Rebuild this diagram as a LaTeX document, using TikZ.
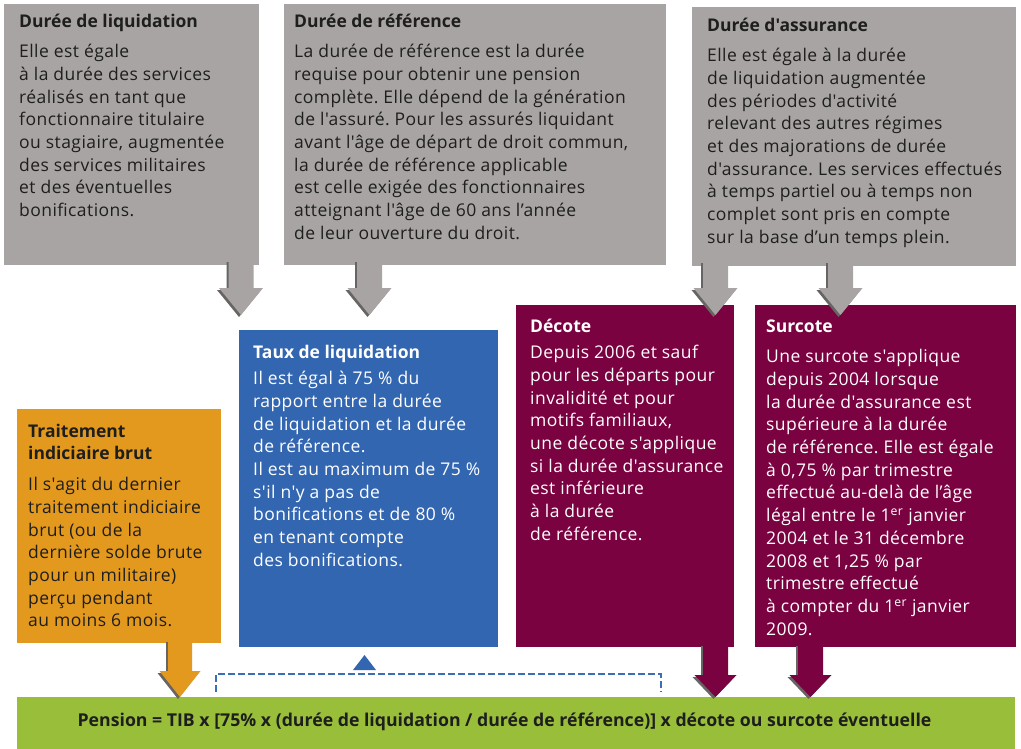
\documentclass[tikz,border=0pt]{standalone}
\usepackage{fontspec}
\setmainfont{Open Sans}[Ligatures=TeXOff]
\newfontfamily\bodyfont{Open Sans}[Ligatures=TeXOff,LetterSpace=2.5]
\usetikzlibrary{calc}
\frenchspacing
\definecolor{grayb}{HTML}{A8A4A3}
\definecolor{blueb}{HTML}{3366B0}
\definecolor{maroon}{HTML}{7B0240}
\definecolor{orangeb}{HTML}{E3991E}
\definecolor{greenb}{HTML}{99BF3A}
\definecolor{darktxt}{HTML}{1E1E1E}
\definecolor{shadowc}{HTML}{676464}
\definecolor{dashblue}{HTML}{3A6FB8}
\newcommand{\blockarrow}[6]{%
  \fill[shadowc] ([xshift=-#4pt-2pt,yshift=-2pt]#1) -- ([xshift=#4pt-2pt,yshift=-2pt]#1) -- ([xshift=#4pt-2pt,yshift=#6pt-2pt]#2) -- ([xshift=#5pt-2pt,yshift=#6pt-2pt]#2) -- ([xshift=-2pt,yshift=-2pt]#2) -- ([xshift=-#5pt-2pt,yshift=#6pt-2pt]#2) -- ([xshift=-#4pt-2pt,yshift=#6pt-2pt]#2) -- cycle;
  \fill[#3] ([xshift=-#4pt]#1) -- ([xshift=#4pt]#1) -- ([xshift=#4pt,yshift=#6pt]#2) -- ([xshift=#5pt,yshift=#6pt]#2) -- (#2) -- ([xshift=-#5pt,yshift=#6pt]#2) -- ([xshift=-#4pt,yshift=#6pt]#2) -- cycle;}
\newcommand{\fs}{\rule{0pt}{14pt}}
\begin{document}
\begin{tikzpicture}[x=1pt,y=-1pt,
  box/.style={anchor=north west,inner sep=0pt,outer sep=0pt,draw=none},
  body/.style={anchor=north west,inner sep=0pt,align=left,font=\bodyfont\fontsize{17.5}{22.7}\selectfont},
  title/.style={anchor=base west,inner sep=0pt,font=\fontsize{17.5}{22.7}\selectfont\bfseries},
  dk/.style={text=darktxt},
  wh/.style={text=white}]
\useasboundingbox (0,0) rectangle (1021,749);
% boxes
\node[box,fill=grayb,minimum width=255pt,minimum height=261pt] (dl) at (4,4) {};
\node[box,fill=grayb,minimum width=382pt,minimum height=261pt] (dr) at (284,4) {};
\node[box,fill=grayb,minimum width=324pt,minimum height=259pt] (da) at (692,7) {};
\node[box,fill=blueb,minimum width=259pt,minimum height=317pt] (tl) at (239,330) {};
\node[box,fill=maroon,minimum width=218pt,minimum height=342pt] (dc) at (516,305) {};
\node[box,fill=maroon,minimum width=261pt,minimum height=342pt] (sc) at (755,305) {};
\node[box,fill=orangeb,minimum width=204pt,minimum height=234pt] (tib) at (17,409) {};
% arrow anchor coordinates
\coordinate (a1s) at (241,260); \coordinate (a1e) at (241,315);
\coordinate (a2s) at (369.5,260); \coordinate (a2e) at (369.5,315);
\coordinate (a3s) at (715.5,261); \coordinate (a3e) at (715.5,315);
\coordinate (a4s) at (840.5,261); \coordinate (a4e) at (840.5,315);
\coordinate (a5s) at (180,640); \coordinate (a5e) at (180,697);
\coordinate (a6s) at (715.5,644); \coordinate (a6e) at (715.5,697);
\coordinate (a7s) at (810.5,644); \coordinate (a7e) at (810.5,697);
\node[box,fill=greenb,minimum width=998pt,minimum height=52pt] (pen) at (17,697) {};
\blockarrow{a1s}{a1e}{grayb}{12.5}{22}{27}
\blockarrow{a2s}{a2e}{grayb}{12.5}{22}{27}
\blockarrow{a3s}{a3e}{grayb}{12.5}{22}{27}
\blockarrow{a4s}{a4e}{grayb}{12.5}{22}{27}
\blockarrow{a5s}{a5e}{orangeb}{12}{20.5}{26}
\blockarrow{a6s}{a6e}{maroon}{12.5}{21}{22}
\blockarrow{a7s}{a7e}{maroon}{12.5}{21}{22}
% dashed bracket and triangle
\coordinate (dL) at (216,692); \coordinate (dR) at (661,692);
\draw[dashblue,line width=1.9pt,dash pattern=on 7pt off 3pt] (dL) -- ++(0,-18) -| (dR);
\fill[blueb] (353,670) -- (376,670) -- (364.5,655) -- cycle;
% texts
\node[title,dk] (dlt) at (19,27.5) {Durée de liquidation};
\node[body,dk] (dlb) at (19,43.5) {\fs Elle est égale\\à la durée des services\\réalisés en tant que\\fonctionnaire titulaire\\ou stagiaire, augmentée\\des services militaires\\et des éventuelles\\bonifications.};
\node[title,dk] (drt) at (294,27.5) {Durée de référence};
\node[body,dk] (drb) at (294,43.5) {\fs La durée de référence est la durée\\requise pour obtenir une pension\\complète. Elle dépend de la génération\\de l'assuré. Pour les assurés liquidant\\avant l'âge de départ de droit commun,\\la durée de référence applicable\\est celle exigée des fonctionnaires\\atteignant l'âge de 60 ans l’année\\de leur ouverture du droit.};
\node[title,dk] (dat) at (707,31.5) {Durée d'assurance};
\node[body,dk] (dab) at (707,47.5) {\fs Elle est égale à la durée\\de liquidation augmentée\\des périodes d'activité\\relevant des autres régimes\\et des majorations de durée\\d'assurance. Les services effectués\\à temps partiel ou à temps non\\complet sont pris en compte\\sur la base d’un temps plein.};
\node[title,wh] (tlt) at (253,358.5) {Taux de liquidation};
\node[body,wh] (tlb) at (253,370.5) {\fs Il est égal à 75 \% du\\rapport entre la durée\\de liquidation et la durée\\de référence.\\Il est au maximum de 75 \%\\s'il n'y a pas de\\bonifications et de 80 \%\\en tenant compte\\des bonifications.};
\node[title,wh] (dct) at (530,332.5) {Décote};
\node[body,wh] (dcb) at (530,344.5) {\fs Depuis 2006 et sauf\\pour les départs pour\\invalidité et pour\\motifs familiaux,\\une décote s'applique\\si la durée d'assurance\\est inférieure\\à la durée\\de référence.};
\node[title,wh] (sct) at (766,332.5) {Surcote};
\node[body,wh] (scb) at (766,348.5) {\fs Une surcote s'applique\\depuis 2004 lorsque\\la durée d'assurance est\\supérieure à la durée\\de référence. Elle est égale\\à 0,75 \% par trimestre\\effectué au-delà de l’âge\\légal entre le 1\textsuperscript{er} janvier\\2004 et le 31 décembre\\2008 et 1,25 \% par\\trimestre effectué\\à compter du 1\textsuperscript{er} janvier\\2009.};
\node[body,dk,font=\fontsize{17.5}{22.2}\selectfont\bfseries] (tibt) at (28,423) {\fs Traitement\\indiciaire brut};
\node[body,dk] (tibb) at (28,476.5) {\fs Il s'agit du dernier\\traitement indiciaire\\brut (ou de la\\dernière solde brute\\pour un militaire)\\perçu pendant\\au moins 6 mois.};
\node[anchor=center,inner sep=0pt,dk,font=\fontsize{17.7}{20}\selectfont\bfseries] (pent) at (504.5,722) {Pension = TIB x [75\% x (durée de liquidation / durée de référence)] x décote ou surcote éventuelle};
\end{tikzpicture}
\end{document}
